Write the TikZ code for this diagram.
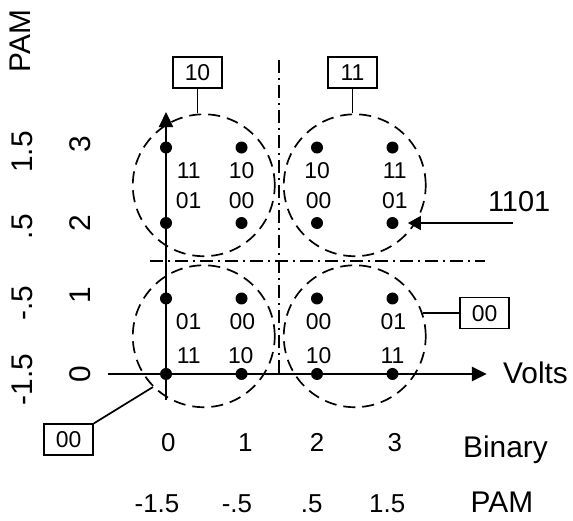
\documentclass[tikz,border=0pt]{standalone}
\usepackage{fontspec}
\setmainfont{Liberation Sans}
\usetikzlibrary{arrows.meta}

\begin{document}
\begin{tikzpicture}[
  x=37.75bp, y=37.75bp,
  sym/.style={circle, fill=black, inner sep=0pt, minimum size=6bp},
  bits/.style={font=\fontsize{11.5}{13}\selectfont, inner sep=0pt},
  quad/.style={draw, circle, dash pattern=on 6bp off 3.5bp, line width=0.85bp,
               minimum size=70.97bp, inner sep=0pt},
  tag/.style={draw, line width=0.85bp, minimum width=24.5bp, minimum height=15.5bp,
              inner sep=0pt, font=\fontsize{11.5}{13}\selectfont},
  axisline/.style={line width=1.2bp, -{Triangle[length=7.5bp, width=7bp]}},
  pointer/.style={line width=0.85bp, -{Triangle[length=6.5bp, width=7bp]}},
  split/.style={line width=0.9bp, dash pattern=on 6.5bp off 2.5bp on 1bp off 2.5bp},
  big/.style={font=\fontsize{15}{17}\selectfont, inner sep=0pt},
  tickval/.style={font=\fontsize{13}{15}\selectfont, inner sep=0pt},
  side/.style={font=\fontsize{15}{18}\selectfont, inner sep=0pt, rotate=90}
]
  \useasboundingbox (-2.199,-1.947) rectangle (5.391,4.954);

  % Quadrant circles
  \node[quad] (qbl) at (0.5,0.5) {};
  \node[quad] (qbr) at (2.5,0.5) {};
  \node[quad] (qtl) at (0.5,2.5) {};
  \node[quad] (qtr) at (2.5,2.5) {};

  % Decision boundaries
  \coordinate (vs) at (1.5,4.16);
  \coordinate (ve) at (1.5,-0.05);
  \coordinate (hs) at (-0.21,1.5);
  \coordinate (he) at (4.23,1.5);
  \draw[split] (vs) -- (ve);
  \draw[split] (hs) -- (he);

  % Axes
  \coordinate (xs) at (-0.77,0);
  \coordinate (xe) at (4.25,0);
  \coordinate (ys) at (0,-0.344);
  \coordinate (ye) at (0,3.47);
  \draw[axisline] (xs) -- (xe);
  \draw[axisline] (ys) -- (ye);
  \node[big, anchor=base west] (volts) at (4.46,-0.12) {Volts};

  % Constellation points
  \node[sym] (d00) at (0,0) {};
  \node[sym] (d10) at (1,0) {};
  \node[sym] (d20) at (2,0) {};
  \node[sym] (d30) at (3,0) {};
  \node[sym] (d01) at (0,1) {};
  \node[sym] (d11) at (1,1) {};
  \node[sym] (d21) at (2,1) {};
  \node[sym] (d31) at (3,1) {};
  \node[sym] (d02) at (0,2) {};
  \node[sym] (d12) at (1,2) {};
  \node[sym] (d22) at (2,2) {};
  \node[sym] (d32) at (3,2) {};
  \node[sym] (d03) at (0,3) {};
  \node[sym] (d13) at (1,3) {};
  \node[sym] (d23) at (2,3) {};
  \node[sym] (d33) at (3,3) {};

  % Lower bit pairs
  \node[bits] (c03) at (0.3,2.70) {11};
  \node[bits] (c13) at (1,2.70) {10};
  \node[bits] (c23) at (2,2.70) {10};
  \node[bits] (c33) at (3.03,2.70) {11};
  \node[bits] (c02) at (0.3,2.29) {01};
  \node[bits] (c12) at (1,2.29) {00};
  \node[bits] (c22) at (2.02,2.29) {00};
  \node[bits] (c32) at (3.03,2.29) {01};
  \node[bits] (c01) at (0.3,0.70) {01};
  \node[bits] (c11) at (1.01,0.70) {00};
  \node[bits] (c21) at (2.02,0.70) {00};
  \node[bits] (c31) at (3.01,0.70) {01};
  \node[bits] (c00) at (0.3,0.25) {11};
  \node[bits] (c10) at (0.99,0.25) {10};
  \node[bits] (c20) at (2.02,0.25) {10};
  \node[bits] (c30) at (3,0.25) {11};

  % Upper bit pairs
  \node[tag] (b10) at (0.417,3.99) {10};
  \node[tag] (b11) at (2.47,3.99) {11};
  \node[tag] (b00r) at (4.22,0.806) {00};
  \node[tag] (b00l) at (-1.29,-0.87) {00};
  \draw[line width=0.85bp] (b10.south) -- (b10.south |- qtl.north);
  \draw[line width=0.85bp] (b11.south) -- (b11.south |- qtr.north);
  \draw[line width=0.85bp] (b00r.west) -- (b00r.west -| qbr.19);
  \draw[line width=0.85bp] (b00l.north east) -- (qbl.225);

  % Example symbol
  \node[big, font=\fontsize{14.5}{17}\selectfont, anchor=base west] (l1101) at (4.26,2.15) {1101};
  \coordinate (a1101) at (4.6,2);
  \draw[pointer, shorten >=4.5bp] (a1101) -- (d32);

  % Vertical scale
  \node[side] (pamy) at (-1.93,4.41) {PAM};
  \node[side] (py3) at (-1.90,2.94) {1.5};
  \node[side] (py2) at (-1.90,1.95) {.5};
  \node[side] (py1) at (-1.90,0.94) {-.5};
  \node[side] (py0) at (-1.90,-0.07) {-1.5};
  \node[side] (by3) at (-1.14,3.04) {3};
  \node[side] (by2) at (-1.14,2.0) {2};
  \node[side] (by1) at (-1.14,1.05) {1};
  \node[side] (by0) at (-1.14,0) {0};

  % Horizontal scale
  \node[tickval, anchor=base] (bx0) at (0.03,-1.02) {0};
  \node[tickval, anchor=base] (bx1) at (1.05,-1.02) {1};
  \node[tickval, anchor=base] (bx2) at (2.0,-1.02) {2};
  \node[tickval, anchor=base] (bx3) at (3.03,-1.02) {3};
  \node[big, anchor=base west] (binx) at (3.93,-1.11) {Binary};
  \node[tickval, anchor=base] (px0) at (-0.12,-1.83) {-1.5};
  \node[tickval, anchor=base] (px1) at (0.94,-1.83) {-.5};
  \node[tickval, anchor=base] (px2) at (1.93,-1.83) {.5};
  \node[tickval, anchor=base] (px3) at (2.93,-1.83) {1.5};
  \node[big, anchor=base west] (pamx) at (4.03,-1.83) {PAM};
\end{tikzpicture}
\end{document}
